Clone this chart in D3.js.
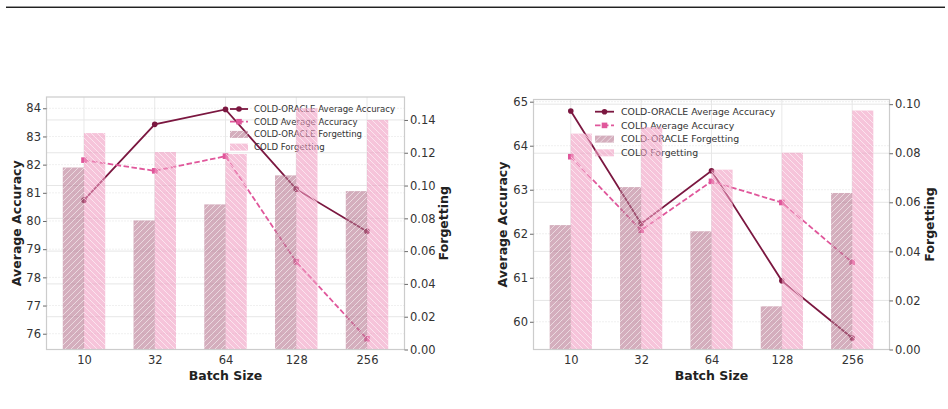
<!DOCTYPE html>
<html>
<head>
<meta charset="utf-8">
<script src="https://cdn.jsdelivr.net/npm/d3@7/dist/d3.min.js"></script>
<style>
  body { margin: 0; background: #fff; }
  text { font-family: "DejaVu Sans", sans-serif; }
</style>
</head>
<body>
<div id="container"></div>
<script>
var width = 948,
    height = 409;

// data
var batchSizes = ["10", "32", "64", "128", "256"];

var leftOracleAcc = [80.74, 83.43, 83.96, 81.13, 79.63];
var leftColdAcc = [82.16, 81.78, 82.30, 78.55, 75.82];
var leftOracleForget = [0.111, 0.0787, 0.0885, 0.1062, 0.0966];
var leftColdForget = [0.132, 0.1204, 0.1192, 0.1471, 0.140];
var leftAccTicks = [76, 77, 78, 79, 80, 81, 82, 83, 84];
var leftForgetTicks = [0, 0.02, 0.04, 0.06, 0.08, 0.10, 0.12, 0.14];

var rightOracleAcc = [64.79, 62.23, 63.43, 60.93, 59.63];
var rightColdAcc = [63.75, 62.08, 63.19, 62.71, 61.35];
var rightOracleForget = [0.0507, 0.0662, 0.0482, 0.0176, 0.0638];
var rightColdForget = [0.088, 0.0906, 0.0733, 0.0802, 0.0974];
var rightAccTicks = [60, 61, 62, 63, 64, 65];
var rightForgetTicks = [0, 0.02, 0.04, 0.06, 0.08, 0.10];

var legendNames = ["COLD-ORACLE Average Accuracy", "COLD Average Accuracy",
                   "COLD-ORACLE Forgetting", "COLD Forgetting"];

var oracleLine = "#7b1740",
    coldLine = "#e0579b",
    oracleBar = "#b77891",
    coldBar = "#f09dc1";

var svg = d3.select("#container").append("svg")
    .attr("width", width)
    .attr("height", height);

var defs = svg.append("defs");
function hatch(id, fwd) {
    var p = defs.append("pattern")
        .attr("id", id)
        .attr("patternUnits", "userSpaceOnUse")
        .attr("width", 6).attr("height", 6);
    p.append("path")
        .attr("d", fwd ? "M-1,7 L7,-1 M-4,4 L4,-4 M2,10 L10,2" : "M-1,-1 L7,7 M-4,2 L4,10 M2,-4 L10,4")
        .attr("stroke", "#fff").attr("stroke-width", 0.6).attr("stroke-opacity", 0.9);
}
hatch("hatchF", true);
hatch("hatchB", false);

// top rule
svg.append("line").attr("x1", 6).attr("x2", 945).attr("y1", 6.5).attr("y2", 6.5)
    .attr("stroke", "#999").attr("stroke-width", 1);
svg.append("line").attr("x1", 6).attr("x2", 945).attr("y1", 7.5).attr("y2", 7.5)
    .attr("stroke", "#222").attr("stroke-width", 1);

function drawPanel(cfg) {
    var g = svg.append("g");
    var x = d3.scaleLinear().domain([-0.53, batchSizes.length - 1 + 0.53]).range([cfg.x0, cfg.x1]);
    var yA = d3.scaleLinear().domain(cfg.accDomain).range([cfg.y1, cfg.y0]);
    var yF = d3.scaleLinear().domain(cfg.forgetDomain).range([cfg.y1, cfg.y0]);
    var idx = d3.range(batchSizes.length);

    // grids
    g.selectAll(".vg").data(idx).join("line")
        .attr("x1", d => x(d)).attr("x2", d => x(d))
        .attr("y1", cfg.y0).attr("y2", cfg.y1)
        .attr("stroke", "#e8e8e8").attr("stroke-width", 1);
    g.selectAll(".ga").data(cfg.accTicks).join("line")
        .attr("x1", cfg.x0).attr("x2", cfg.x1)
        .attr("y1", d => yA(d)).attr("y2", d => yA(d))
        .attr("stroke", "#d8d8d8").attr("stroke-width", 0.8).attr("stroke-dasharray", "1,2");
    g.selectAll(".gf").data(cfg.forgetTicks).join("line")
        .attr("x1", cfg.x0).attr("x2", cfg.x1)
        .attr("y1", d => yF(d)).attr("y2", d => yF(d))
        .attr("stroke", "#e6e6e6").attr("stroke-width", 1);

    // accuracy lines
    var line = d3.line().x((d, i) => x(i)).y(d => yA(d));
    g.append("path").datum(cfg.oracleAcc).attr("d", line)
        .attr("fill", "none").attr("stroke", oracleLine).attr("stroke-width", 1.8);
    g.selectAll(".mo").data(cfg.oracleAcc).join("circle")
        .attr("cx", (d, i) => x(i)).attr("cy", d => yA(d)).attr("r", 2.8)
        .attr("fill", oracleLine);
    g.append("path").datum(cfg.coldAcc).attr("d", line)
        .attr("fill", "none").attr("stroke", coldLine).attr("stroke-width", 1.8)
        .attr("stroke-dasharray", "5.5,2.5");
    g.selectAll(".mc").data(cfg.coldAcc).join("rect")
        .attr("x", (d, i) => x(i) - 2.8).attr("y", d => yA(d) - 2.8)
        .attr("width", 5.6).attr("height", 5.6)
        .attr("fill", coldLine);

    // legend (sits under the bars)
    var lg = g.append("g").attr("transform", "translate(" + cfg.legX + "," + cfg.legY + ")");
    legendNames.forEach(function (name, i) {
        var yy = i * cfg.legStep;
        var hw = cfg.legHandle;
        if (i === 0) {
            lg.append("line").attr("x1", 0).attr("x2", hw).attr("y1", yy).attr("y2", yy)
                .attr("stroke", oracleLine).attr("stroke-width", 1.8);
            lg.append("circle").attr("cx", hw / 2).attr("cy", yy).attr("r", 2.8).attr("fill", oracleLine);
        } else if (i === 1) {
            lg.append("line").attr("x1", 0).attr("x2", hw).attr("y1", yy).attr("y2", yy)
                .attr("stroke", coldLine).attr("stroke-width", 1.8).attr("stroke-dasharray", "5.5,2.5");
            lg.append("rect").attr("x", hw / 2 - 2.8).attr("y", yy - 2.8)
                .attr("width", 5.6).attr("height", 5.6).attr("fill", coldLine);
        } else {
            var c = i === 2 ? oracleBar : coldBar;
            lg.append("rect").attr("x", 0).attr("y", yy - 3.5).attr("width", hw).attr("height", 7)
                .attr("fill", c).attr("fill-opacity", 0.6);
            lg.append("rect").attr("x", 0).attr("y", yy - 3.5).attr("width", hw).attr("height", 7)
                .attr("fill", i === 2 ? "url(#hatchF)" : "url(#hatchB)");
        }
        lg.append("text").attr("x", hw + cfg.legGap).attr("y", yy).attr("dy", "0.35em")
            .attr("font-size", cfg.legFont).attr("fill", "#333").text(name);
    });

    // forgetting bars on the twin axis
    var bw = 0.3;
    function bars(vals, off, col, pat) {
        g.selectAll(null).data(vals).join("rect")
            .attr("x", (d, i) => x(i + off)).attr("y", d => yF(d))
            .attr("width", x(bw) - x(0)).attr("height", d => yF(0) - yF(d))
            .attr("fill", col).attr("fill-opacity", 0.6);
        g.selectAll(null).data(vals).join("rect")
            .attr("x", (d, i) => x(i + off)).attr("y", d => yF(d))
            .attr("width", x(bw) - x(0)).attr("height", d => yF(0) - yF(d))
            .attr("fill", pat);
    }
    bars(cfg.oracleForget, -bw, oracleBar, "url(#hatchF)");
    bars(cfg.coldForget, 0, coldBar, "url(#hatchB)");

    // frame
    g.append("rect").attr("x", cfg.x0).attr("y", cfg.y0)
        .attr("width", cfg.x1 - cfg.x0).attr("height", cfg.y1 - cfg.y0)
        .attr("fill", "none").attr("stroke", "#cccccc").attr("stroke-width", 1.2);

    // axes
    var axL = g.append("g").attr("transform", "translate(" + cfg.x0 + ",0)")
        .call(d3.axisLeft(yA).tickValues(cfg.accTicks).tickFormat(d3.format("d")).tickSize(3.5).tickPadding(2));
    var axR = g.append("g").attr("transform", "translate(" + cfg.x1 + ",0)")
        .call(d3.axisRight(yF).tickValues(cfg.forgetTicks).tickFormat(d3.format(".2f")).tickSize(3.5).tickPadding(2));
    var axB = g.append("g").attr("transform", "translate(0," + cfg.y1 + ")")
        .call(d3.axisBottom(x).tickValues(idx).tickFormat(i => batchSizes[i]).tickSize(0).tickPadding(6));
    [axL, axR, axB].forEach(function (a) {
        a.select(".domain").remove();
        a.selectAll(".tick line").attr("stroke", "#444").attr("stroke-width", 0.8);
        a.selectAll("text").attr("font-size", 11.5).attr("fill", "#333")
            .attr("font-family", "DejaVu Sans, sans-serif");
    });

    g.append("text").attr("x", (cfg.x0 + cfg.x1) / 2).attr("y", cfg.y1 + 30)
        .attr("text-anchor", "middle").attr("font-size", 12.5).attr("font-weight", "bold")
        .attr("fill", "#222").text("Batch Size");
    g.append("text")
        .attr("transform", "translate(" + cfg.labL + "," + (cfg.y0 + cfg.y1) / 2 + ") rotate(-90)")
        .attr("text-anchor", "middle").attr("dy", "0.35em").attr("font-size", 12.5).attr("font-weight", "bold")
        .attr("fill", "#222").text("Average Accuracy");
    g.append("text")
        .attr("transform", "translate(" + cfg.labR + "," + (cfg.y0 + cfg.y1) / 2 + ") rotate(-90)")
        .attr("text-anchor", "middle").attr("dy", "0.35em").attr("font-size", 12.5).attr("font-weight", "bold")
        .attr("fill", "#222").text("Forgetting");
}

drawPanel({
    x0: 46.5, x1: 404.5, y0: 97, y1: 349.5,
    accDomain: [75.44, 84.4], forgetDomain: [0, 0.154],
    accTicks: leftAccTicks, forgetTicks: leftForgetTicks,
    oracleAcc: leftOracleAcc, coldAcc: leftColdAcc,
    oracleForget: leftOracleForget, coldForget: leftColdForget,
    legX: 230, legY: 109, legStep: 12.7, legHandle: 18, legGap: 6, legFont: 8.55,
    labL: 17, labR: 444
});

drawPanel({
    x0: 533.5, x1: 889.5, y0: 99.5, y1: 349.5,
    accDomain: [59.37, 65.05], forgetDomain: [0, 0.1019],
    accTicks: rightAccTicks, forgetTicks: rightForgetTicks,
    oracleAcc: rightOracleAcc, coldAcc: rightColdAcc,
    oracleForget: rightOracleForget, coldForget: rightColdForget,
    legX: 595, legY: 111.7, legStep: 13.7, legHandle: 19, legGap: 7, legFont: 9.35,
    labL: 503, labR: 930
});
</script>
</body>
</html>
